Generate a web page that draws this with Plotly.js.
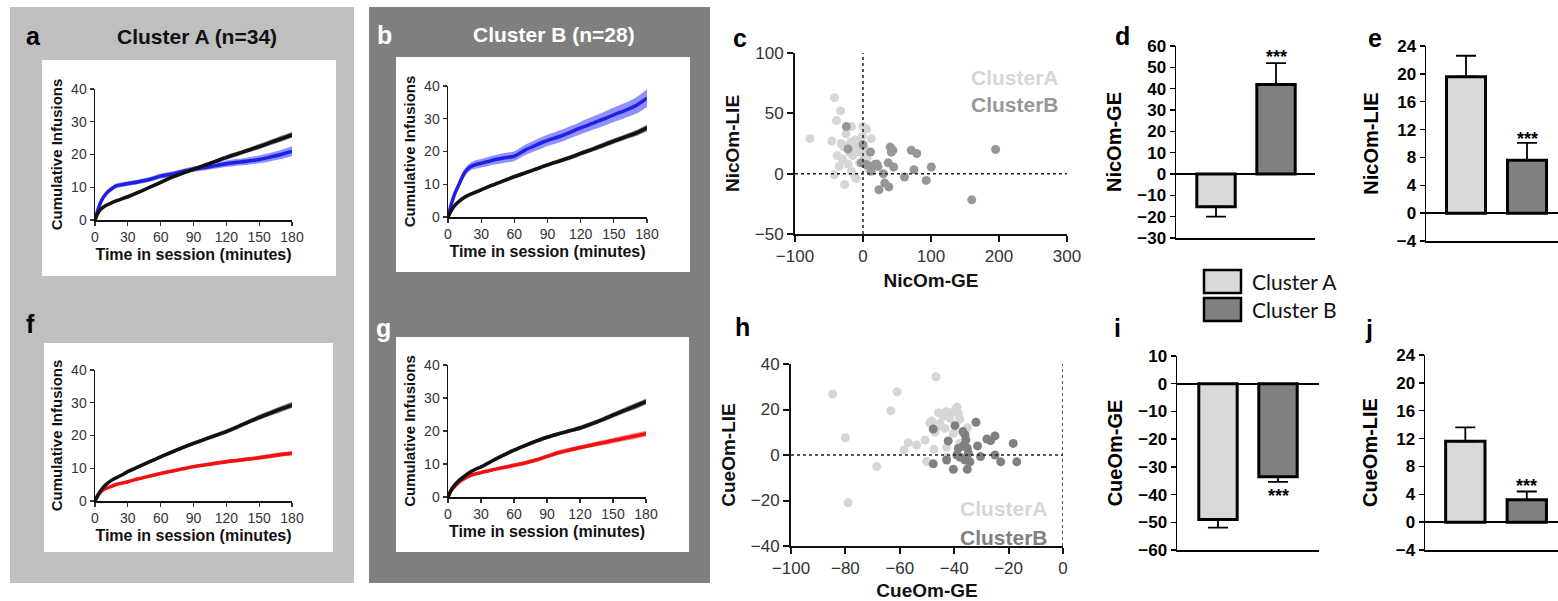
<!DOCTYPE html>
<html>
<head>
<meta charset="utf-8">
<script src="https://cdn.plot.ly/plotly-3.0.1.min.js"></script>
<style>
  html, body { margin: 0; padding: 0; background: #ffffff; }
  #chart { width: 1558px; height: 601px; }
</style>
</head>
<body>
<div id="chart"></div>
<script>
// ---------------- DATA ----------------
// time points (minutes) for cumulative infusion curves
const timeMin = [0,3,6,10,15,20,25,30,40,50,60,70,80,90,100,110,120,130,140,150,160,170,180];

// Panel a (Cluster A) - blue and black curves, mean and SEM
const aBlueMean  = [0,3.5,6,8,9.5,10.5,10.8,11.1,11.7,12.4,13.4,14,14.8,15.5,16,16.6,17.2,17.6,18,18.5,19.2,20,21];
const aBlueSem   = [0,0.5,0.6,0.7,0.7,0.7,0.7,0.7,0.7,0.7,0.8,0.8,0.8,0.8,0.9,0.9,1.0,1.0,1.1,1.2,1.3,1.4,1.5];
const aBlackMean = [0,2.3,3.5,4.4,5.2,5.9,6.5,7.1,8.5,10,11.5,13,14.3,15.5,16.7,17.9,19.1,20.2,21.3,22.4,23.6,24.8,26];
const aBlackSem  = [0,0.3,0.4,0.4,0.4,0.4,0.4,0.5,0.5,0.5,0.5,0.5,0.6,0.6,0.6,0.6,0.7,0.7,0.7,0.8,0.8,0.9,0.9];

// Panel b (Cluster B)
const bBlueMean  = [0,4,7,10,13.5,15.3,16,16.4,17.3,18,18.6,20.5,22,23.4,24.5,25.8,27.2,28.5,29.8,31.2,32.5,34,36.3];
const bBlueSem   = [0,0.8,1,1.1,1.2,1.2,1.3,1.3,1.4,1.5,1.5,1.6,1.7,1.7,1.8,1.8,1.9,2,2.1,2.2,2.3,2.5,2.7];
const bBlackMean = [0,2,3.5,4.8,6,6.9,7.6,8.3,9.7,11,12.3,13.5,14.7,15.9,17,18.1,19.4,20.6,21.9,23.2,24.4,25.6,27.2];
const bBlackSem  = [0,0.3,0.4,0.4,0.4,0.4,0.5,0.5,0.5,0.5,0.6,0.6,0.6,0.6,0.7,0.7,0.7,0.7,0.8,0.8,0.8,0.9,1.0];

// Panel f (Cluster A) - black and red
const fBlackMean = [0,2,3.5,5,6.3,7.2,8,9,10.5,12,13.5,14.9,16.3,17.6,18.8,20,21.2,22.6,24.1,25.5,26.8,28.1,29.3];
const fBlackSem  = [0,0.3,0.4,0.4,0.4,0.4,0.4,0.5,0.5,0.5,0.5,0.6,0.6,0.6,0.6,0.6,0.7,0.7,0.7,0.8,0.8,0.9,0.9];
const fRedMean   = [0,1.8,3,3.8,4.5,5.1,5.5,5.9,6.8,7.6,8.4,9.1,9.8,10.5,11,11.5,12,12.4,12.8,13.2,13.7,14.2,14.6];
const fRedSem    = [0,0.3,0.3,0.4,0.4,0.4,0.4,0.4,0.4,0.5,0.5,0.5,0.5,0.5,0.5,0.6,0.6,0.6,0.6,0.6,0.7,0.7,0.7];

// Panel g (Cluster B) - black and red
const gBlackMean = [0,2.2,3.6,5,6.3,7.5,8.4,9.1,10.9,12.6,14.2,15.6,16.9,18.1,19.1,20,20.9,22.1,23.4,24.8,26.2,27.5,28.9];
const gBlackSem  = [0,0.3,0.4,0.4,0.4,0.4,0.4,0.5,0.5,0.5,0.5,0.6,0.6,0.6,0.6,0.6,0.7,0.7,0.7,0.8,0.8,0.9,0.9];
const gRedMean   = [0,2,3.2,4.5,5.6,6.5,7,7.4,8.2,8.9,9.6,10.3,11.2,12.3,13.4,14.2,15,15.7,16.4,17.1,17.8,18.5,19.2];
const gRedSem    = [0,0.3,0.4,0.4,0.4,0.5,0.5,0.5,0.5,0.6,0.6,0.6,0.6,0.6,0.7,0.7,0.7,0.7,0.8,0.8,0.8,0.9,0.9];

// Panel c scatter: NicOm-GE (x) vs NicOm-LIE (y)
const cA_GE  = [-42,-33,-39,-78,-46,-32,-17,0,5,-12,-1,12,-35,-22,-42,-17,-12,-27,-10,-20,-12,-28,6,-5,-18,-8,3,-30,8,2,-25,-15,-6,-38];
const cA_LIE = [63,52,44,29,27,25,39,39,37,28,31,29,6,8,-1,2,-2,-9,-4,18,23,22,13,9,26,26,20,12,4,15,33,15,18,15];
const cB_GE  = [-24.5,-22,0,11,-2.5,5,10,17,12,20,22,30,23.5,32,38,37,40,41.7,44,45,61,71,79,75,93,100.5,160,195];
const cB_LIE = [39,20.5,24,18,9,7.5,6,7.5,2,8,6,0,-13.3,-7.8,-11,9,22,17.8,19.4,5.5,-2.8,19.4,16.7,3.3,-5.6,5.5,-21.7,20];

// Panel h scatter: CueOm-GE (x) vs CueOm-LIE (y)
const hA_GE  = [-84.7,-61,-63.3,-80,-68.5,-79,-46.7,-45.8,-43,-41,-39,-38.5,-48.3,-45.2,-43.4,-40.3,-37.9,-35.2,-50.7,-56.9,-53.8,-58.5,-47.4,-42.8,-50.1,-42.8,-44,-41.5,-47,-36,-39.5,-46,-38,-49];
const hA_LIE = [26.8,27.8,19.5,7.6,-5.1,-21,34.4,18.6,19,18.6,21,18.3,15,13.9,11.7,9.5,15.7,12,6.6,5.4,4.4,2.2,2.5,3.4,-2.9,-1,17,16,10,10.5,20,12.5,5,14];
const hB_GE  = [-47.7,-39.7,-32,-42.2,-36,-35.7,-36.7,-38.5,-31.4,-28,-26.6,-25,-18.3,-47.7,-42.8,-39,-37.8,-34.8,-36,-34.2,-30.3,-25,-22.9,-17,-40.3,-35.2,-36.8,-35.2];
const hB_LIE = [11.4,12.9,14.4,6.2,8.8,6.6,4,2.9,4,7,6.3,8.4,5.1,-3.9,-2.2,0,-1,0.7,-2.2,-3,-0.7,0,-3,-3,-6.3,-6.3,10.3,3];

// Bar panels (mean, SEM)
const barCats = ['Cluster A', 'Cluster B'];
const dMean = [-15.3, 42];   const dSem = [4.7, 10];
const eMean = [19.6, 7.6];   const eSem = [3.0, 2.5];
const iMean = [-49, -33.6];  const iSem = [2.9, 1.8];
const jMean = [11.6, 3.2];   const jSem = [2.0, 1.2];

const lineTicks = [0,30,60,90,120,150,180];

// ---------------- HELPERS ----------------
const W = 1558, H = 601;
const dx = (l, r) => [l / W, Math.min(1, r / W)];
const dy = (top, bot) => [1 - bot / H, 1 - top / H];

function band(mean, sem, lineColor, fillColor, xa, ya, lw) {
  const lo = mean.map((m, k) => m - sem[k]);
  const hi = mean.map((m, k) => m + sem[k]);
  return [
    {x: timeMin, y: lo, xaxis: xa, yaxis: ya, mode: 'lines', line: {width: 0, shape: 'spline', smoothing: 0.8}, hoverinfo: 'skip', showlegend: false},
    {x: timeMin, y: hi, xaxis: xa, yaxis: ya, mode: 'lines', fill: 'tonexty', fillcolor: fillColor, line: {width: 0, shape: 'spline', smoothing: 0.8}, hoverinfo: 'skip', showlegend: false},
    {x: timeMin, y: mean, xaxis: xa, yaxis: ya, mode: 'lines', line: {color: lineColor, width: lw || 3.5, shape: 'spline', smoothing: 0.8}, showlegend: false}
  ];
}

const blueLine = '#1f1fe6', blueFill = 'rgba(70,70,255,0.6)';
const blackLine = '#111111', blackFill = 'rgba(30,30,30,0.6)';
const redLine = '#f01010', redFill = 'rgba(255,40,40,0.55)';

function scatter(x, y, color, xa, ya) {
  return {x: x, y: y, xaxis: xa, yaxis: ya, mode: 'markers', type: 'scatter',
    marker: {color: color, size: 9, line: {width: 0}}, showlegend: false};
}

function bars(mean, sem, xa, ya, width) {
  return {
    type: 'bar', x: barCats, y: mean, xaxis: xa, yaxis: ya, width: width || 0.64,
    marker: {color: ['#d9d9d9', '#808080'], line: {color: '#000', width: 3}},
    error_y: {type: 'data', symmetric: false,
      array: mean.map((m, k) => m >= 0 ? sem[k] : 0),
      arrayminus: mean.map((m, k) => m < 0 ? sem[k] : 0),
      color: '#000', thickness: 1.8, width: 10},
    showlegend: false
  };
}

const AF = 'Liberation Sans, Arial, sans-serif';

function lineAxisX(domain, anchor) {
  return {domain: domain, anchor: anchor, range: [0, 180], tickvals: lineTicks, ticks: 'outside', ticklen: 4, tickwidth: 1.2,
    tickcolor: '#333', showline: true, linecolor: '#111', linewidth: 1.5, showgrid: false, zeroline: false,
    tickfont: {family: AF, size: 14, color: '#333'},
    title: {text: 'Time in session (minutes)', font: {family: AF, size: 16, color: '#111', weight: 'bold'}, standoff: 4}};
}
function lineAxisY(domain, anchor) {
  return {domain: domain, anchor: anchor, range: [0, 40], tickvals: [0,10,20,30,40], ticks: 'outside', ticklen: 4, tickwidth: 1.2,
    tickcolor: '#333', showline: true, linecolor: '#111', linewidth: 1.5, showgrid: false, zeroline: false,
    tickfont: {family: AF, size: 14, color: '#333'},
    title: {text: 'Cumulative Infusions', font: {family: AF, size: 15, color: '#111', weight: 'bold'}, standoff: 5}};
}
function scAxis(domain, anchor, range, tickvals, title, standoff) {
  return {domain: domain, anchor: anchor, range: range, tickvals: tickvals, ticks: 'outside', ticklen: 6, tickwidth: 2,
    tickcolor: '#111', showline: true, linecolor: '#111', linewidth: 2, showgrid: false, zeroline: false,
    tickfont: {family: AF, size: 17, color: '#333'},
    title: {text: title, font: {family: AF, size: 19, color: '#111', weight: 'bold'}, standoff: standoff}};
}
function barX(domain, anchor, range) {
  return {domain: domain, anchor: anchor, type: 'category', range: range, showticklabels: false, ticks: '',
    showline: true, linecolor: '#000', linewidth: 2, showgrid: false, zeroline: false};
}
function barY(domain, anchor, range, dtick, title, standoff) {
  return {domain: domain, anchor: anchor, range: range, dtick: dtick, ticks: 'outside', ticklen: 5, tickwidth: 1.5,
    tickcolor: '#000', showline: true, linecolor: '#000', linewidth: 1.5, showgrid: false,
    zeroline: true, zerolinecolor: '#000', zerolinewidth: 2,
    tickfont: {family: AF, size: 17, color: '#000', weight: 'bold'},
    title: {text: title, font: {family: AF, size: 20, color: '#000', weight: 'bold'}, standoff: standoff}};
}

// ---------------- TRACES ----------------
let data = [];
data = data.concat(band(aBlueMean, aBlueSem, blueLine, blueFill, 'x', 'y'));
data = data.concat(band(aBlackMean, aBlackSem, blackLine, blackFill, 'x', 'y'));
data = data.concat(band(bBlueMean, bBlueSem, blueLine, blueFill, 'x2', 'y2'));
data = data.concat(band(bBlackMean, bBlackSem, blackLine, blackFill, 'x2', 'y2'));
data = data.concat(band(fRedMean, fRedSem, redLine, redFill, 'x3', 'y3'));
data = data.concat(band(fBlackMean, fBlackSem, blackLine, blackFill, 'x3', 'y3'));
data = data.concat(band(gRedMean, gRedSem, redLine, redFill, 'x4', 'y4'));
data = data.concat(band(gBlackMean, gBlackSem, blackLine, blackFill, 'x4', 'y4'));

data.push(scatter(cA_GE, cA_LIE, '#d6d6d6', 'x5', 'y5'));
data.push(scatter(cB_GE, cB_LIE, '#979797', 'x5', 'y5'));
data.push(scatter(hA_GE, hA_LIE, '#d6d6d6', 'x6', 'y6'));
data.push(scatter(hB_GE, hB_LIE, '#808080', 'x6', 'y6'));

data.push(bars(dMean, dSem, 'x7', 'y7'));
data.push(bars(eMean, eSem, 'x8', 'y8'));
data.push(bars(iMean, iSem, 'x9', 'y9'));
data.push(bars(jMean, jSem, 'x10', 'y10'));

// ---------------- LAYOUT ----------------
const shapes = [
  // panel backgrounds
  {type: 'rect', xref: 'paper', yref: 'paper', x0: 10/W, x1: 354/W, y0: 1-583/H, y1: 1-7/H, fillcolor: '#bfbfbf', line: {width: 0}, layer: 'below'},
  {type: 'rect', xref: 'paper', yref: 'paper', x0: 369/W, x1: 710/W, y0: 1-583/H, y1: 1-7/H, fillcolor: '#7f7f7f', line: {width: 0}, layer: 'below'},
  {type: 'rect', xref: 'paper', yref: 'paper', x0: 42/W, x1: 336/W, y0: 1-276/H, y1: 1-60/H, fillcolor: '#ffffff', line: {width: 0}, layer: 'below'},
  {type: 'rect', xref: 'paper', yref: 'paper', x0: 396/W, x1: 690/W, y0: 1-272/H, y1: 1-57/H, fillcolor: '#ffffff', line: {width: 0}, layer: 'below'},
  {type: 'rect', xref: 'paper', yref: 'paper', x0: 44/W, x1: 333/W, y0: 1-552/H, y1: 1-343/H, fillcolor: '#ffffff', line: {width: 0}, layer: 'below'},
  {type: 'rect', xref: 'paper', yref: 'paper', x0: 396/W, x1: 689/W, y0: 1-552/H, y1: 1-337/H, fillcolor: '#ffffff', line: {width: 0}, layer: 'below'},
  // dotted reference lines in scatter plots
  {type: 'line', xref: 'x5', yref: 'y5 domain', x0: 0, x1: 0, y0: 0, y1: 1, line: {color: '#222', width: 1.5, dash: 'dot'}},
  {type: 'line', xref: 'x5 domain', yref: 'y5', x0: 0, x1: 1, y0: 0, y1: 0, line: {color: '#222', width: 1.5, dash: 'dot'}},
  {type: 'line', xref: 'x6', yref: 'y6 domain', x0: 0, x1: 0, y0: 0, y1: 1, line: {color: '#222', width: 1.5, dash: 'dot'}},
  {type: 'line', xref: 'x6 domain', yref: 'y6', x0: 0, x1: 1, y0: 0, y1: 0, line: {color: '#222', width: 1.5, dash: 'dot'}},
  // legend swatches
  {type: 'rect', xref: 'paper', yref: 'paper', x0: 1204/W, x1: 1241/W, y0: 1-293/H, y1: 1-270/H, fillcolor: '#d9d9d9', line: {color: '#000', width: 2.5}},
  {type: 'rect', xref: 'paper', yref: 'paper', x0: 1204/W, x1: 1241/W, y0: 1-321/H, y1: 1-298/H, fillcolor: '#808080', line: {color: '#000', width: 2.5}}
];

function pa(text, x, y, size, color, extra) {
  return Object.assign({text: text, xref: 'paper', yref: 'paper', x: x / W, y: 1 - y / H, showarrow: false,
    xanchor: 'center', yanchor: 'middle', font: {family: AF, size: size, color: color, weight: 'bold'}}, extra || {});
}

const starFont = {family: AF, size: 18, color: '#000', weight: 'bold'};
const annotations = [
  pa('a', 33, 36, 25, '#000'),
  pa('Cluster A (n=34)', 197, 37, 21, '#111'),
  pa('b', 384, 35, 25, '#fff'),
  pa('Cluster B (n=28)', 554, 35, 21, '#fff'),
  pa('c', 740, 38, 25, '#000'),
  pa('d', 1122, 36, 25, '#000'),
  pa('e', 1375, 38, 25, '#000'),
  pa('f', 30, 324, 25, '#000'),
  pa('g', 383, 328, 25, '#fff'),
  pa('h', 742, 327, 25, '#000'),
  pa('i', 1117, 328, 25, '#000'),
  pa('j', 1369, 329, 25, '#000'),
  // scatter legends
  pa('ClusterA', 969, 77, 21, '#d6d6d6', {xanchor: 'left'}),
  pa('ClusterB', 969, 104, 21, '#979797', {xanchor: 'left'}),
  pa('ClusterA', 958, 508, 21, '#d6d6d6', {xanchor: 'left'}),
  pa('ClusterB', 958, 537, 21, '#808080', {xanchor: 'left'}),
  // bar legend
  pa('Cluster A', 1250, 281, 21, '#111', {xanchor: 'left', font: {family: 'Lato, Open Sans, sans-serif', size: 21, color: '#111'}}),
  pa('Cluster B', 1250, 309, 21, '#111', {xanchor: 'left', font: {family: 'Lato, Open Sans, sans-serif', size: 21, color: '#111'}}),
  // significance stars
  {text: '***', xref: 'x7', yref: 'y7', x: 'Cluster B', y: 55, showarrow: false, yanchor: 'middle', font: starFont},
  {text: '***', xref: 'x8', yref: 'y8', x: 'Cluster B', y: 10.6, showarrow: false, yanchor: 'middle', font: starFont},
  {text: '***', xref: 'x9', yref: 'y9', x: 'Cluster B', y: -40.5, showarrow: false, yanchor: 'middle', font: starFont},
  {text: '***', xref: 'x10', yref: 'y10', x: 'Cluster B', y: 5.2, showarrow: false, yanchor: 'middle', font: starFont}
];

const layout = {
  width: W, height: H,
  margin: {l: 0, r: 0, t: 0, b: 0},
  paper_bgcolor: '#ffffff', plot_bgcolor: 'rgba(0,0,0,0)',
  showlegend: false,
  xaxis:  lineAxisX(dx(95, 292), 'y'),   yaxis:  lineAxisY(dy(89, 220), 'x'),
  xaxis2: lineAxisX(dx(448, 647), 'y2'), yaxis2: lineAxisY(dy(86, 217), 'x2'),
  xaxis3: lineAxisX(dx(95, 292), 'y3'),  yaxis3: lineAxisY(dy(370, 501), 'x3'),
  xaxis4: lineAxisX(dx(448, 646), 'y4'), yaxis4: lineAxisY(dy(365, 497), 'x4'),
  xaxis5: scAxis(dx(795, 1067), 'y5', [-100, 300], [-100,0,100,200,300], 'NicOm-GE', 8),
  yaxis5: scAxis(dy(53, 234), 'x5', [-50, 100], [-50,0,50,100], 'NicOm-LIE', 10),
  xaxis6: scAxis(dx(791, 1063), 'y6', [-100, 0], [-100,-80,-60,-40,-20,0], 'CueOm-GE', 8),
  yaxis6: scAxis(dy(364, 546), 'x6', [-40, 40], [-40,-20,0,20,40], 'CueOm-LIE', 10),
  xaxis7: barX(dx(1176, 1315), 'y7', [-0.667, 1.65]),
  yaxis7: barY(dy(46, 238), 'x7', [-30, 60], 10, 'NicOm-GE', 10),
  xaxis8: barX(dx(1426, 1558), 'y8', [-0.656, 1.508]),
  yaxis8: barY(dy(46, 241), 'x8', [-4, 24], 4, 'NicOm-LIE', 12),
  xaxis9: barX(dx(1177, 1319), 'y9', [-0.683, 1.683]),
  yaxis9: barY(dy(356, 550), 'x9', [-60, 10], 10, 'CueOm-GE', 10),
  xaxis10: barX(dx(1425, 1558), 'y10', [-0.656, 1.508]),
  yaxis10: barY(dy(355, 550), 'x10', [-4, 24], 4, 'CueOm-LIE', 12),
  shapes: shapes,
  annotations: annotations,
  font: {family: AF}
};

Plotly.newPlot('chart', data, layout, {displayModeBar: false, staticPlot: true});
</script>
</body>
</html>
